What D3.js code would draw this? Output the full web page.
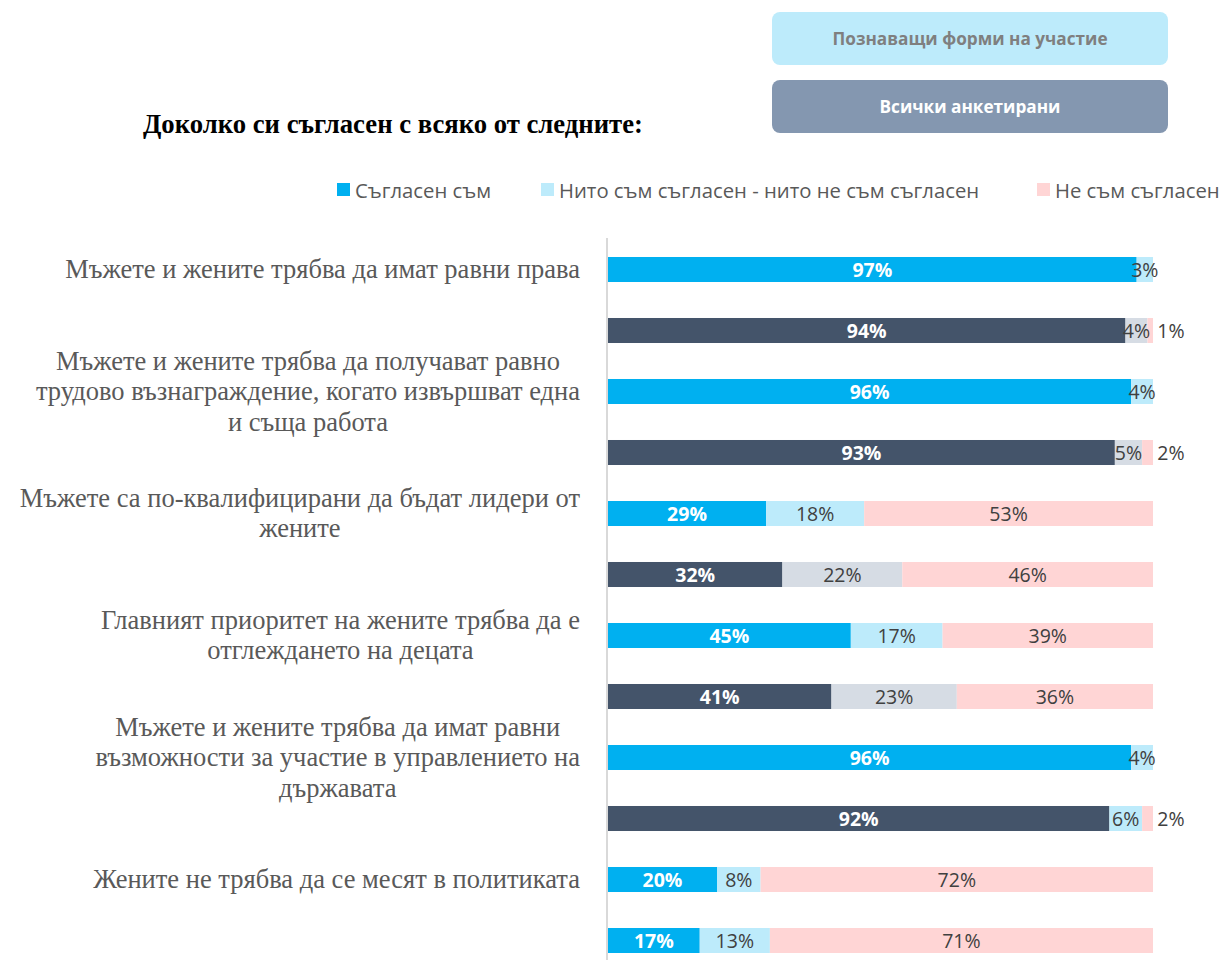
<!DOCTYPE html>
<html><head><meta charset="utf-8">
<script src="https://cdn.jsdelivr.net/npm/d3@7"></script>
<style>body{margin:0;background:#fff}svg{display:block}</style>
</head><body>
<script>
// ---- data ----
const statements = [
  "Мъжете и жените трябва да имат равни права",
  "Мъжете и жените трябва да получават равно|трудово възнаграждение, когато извършват една|и съща работа",
  "Мъжете са по-квалифицирани да бъдат лидери от|жените",
  "Главният приоритет на жените трябва да е|отглеждането на децата",
  "Мъжете и жените трябва да имат равни|възможности за участие в управлението на|държавата",
  "Жените не трябва да се месят в политиката"
];
const groups = ["Познаващи форми на участие", "Всички анкетирани"];
const seriesNames = ["Съгласен съм", "Нито съм съгласен - нито не съм съгласен", "Не съм съгласен"];
const agree    = [97, 94, 96, 93, 29, 32, 45, 41, 96, 92, 20, 17];
const neutral  = [3, 4, 4, 5, 18, 22, 17, 23, 4, 6, 8, 13];
const disagree = [0, 1, 0, 2, 53, 46, 39, 36, 0, 2, 72, 71];
const title = "Доколко си съгласен с всяко от следните:";

// ---- styles ----
const W = 1220, H = 960;
const light = ["#00B0F0", "#BDEBFB", "#FFD5D5"];
const dark  = ["#44546A", "#D6DCE4", "#FFD5D5"];
const darkB = ["#44546A", "#BDEBFB", "#FFD5D5"];
const rowPalette = [light, dark, light, dark, light, dark, light, dark, light, darkB, light, light];

const svg = d3.select("body").append("svg").attr("width", W).attr("height", H);

// buttons
const btns = [
  {t: groups[0], y: 12, fill: "#BDEBFB", color: "#7F7F7F"},
  {t: groups[1], y: 80, fill: "#8497B0", color: "#FFFFFF"}
];
btns.forEach(b => {
  svg.append("rect").attr("x", 772).attr("y", b.y).attr("width", 396).attr("height", 53)
    .attr("rx", 8).attr("fill", b.fill);
  svg.append("text").attr("x", 970).attr("y", b.y + 26.5).attr("text-anchor", "middle")
    .attr("dominant-baseline", "central").attr("font-family", "Open Sans, sans-serif")
    .attr("font-weight", "bold").attr("font-size", 17.2).attr("fill", b.color).text(b.t);
});

// title
svg.append("text").attr("x", 143).attr("y", 133).attr("font-family", "Liberation Serif, serif")
  .attr("font-weight", "bold").attr("font-size", 26.7).attr("fill", "#000").text(title);

// legend
const legX = [337, 541, 1037];
seriesNames.forEach((s, i) => {
  svg.append("rect").attr("x", legX[i]).attr("y", 183).attr("width", 13).attr("height", 13).attr("fill", light[i]);
  svg.append("text").attr("x", legX[i] + 18).attr("y", 190).attr("dominant-baseline", "central")
    .attr("font-family", "Open Sans, sans-serif").attr("font-size", 20.3).attr("fill", "#595959").text(s);
});

// scales
const rows = d3.range(agree.length);
const y = d3.scaleBand().domain(rows).range([239, 239 + 61 * rows.length]).paddingInner(0.59).paddingOuter(0.295);
const x = d3.scaleLinear().domain([0, 1]).range([608, 1153]);

const stackData = rows.map(r => {
  const vals = [agree[r], neutral[r], disagree[r]];
  const tot = d3.sum(vals);
  let acc = 0;
  return vals.map((v, k) => { const s = {r, k, v, x0: acc / tot, x1: (acc + v) / tot}; acc += v; return s; });
});

const g = svg.append("g");
stackData.forEach(segs => {
  segs.filter(s => s.v > 0).forEach(s => {
    g.append("rect").attr("x", x(s.x0)).attr("y", y(s.r)).attr("width", x(s.x1) - x(s.x0))
      .attr("height", y.bandwidth()).attr("fill", rowPalette[s.r][s.k]);
  });
  segs.filter(s => s.v > 0).forEach(s => {
    let cx = (x(s.x0) + x(s.x1)) / 2;
    if (s.k === 2 && s.v < 3) cx = x(1) + 18;
    g.append("text").attr("x", cx).attr("y", y(s.r) + y.bandwidth() / 2)
      .attr("text-anchor", "middle").attr("dominant-baseline", "central")
      .attr("font-family", "Open Sans, sans-serif").attr("font-size", 19.5)
      .attr("font-weight", s.k === 0 ? "bold" : "normal")
      .attr("fill", s.k === 0 ? "#FFFFFF" : "#404040").text(s.v + "%");
  });
});

// axis line
svg.append("line").attr("x1", 607).attr("x2", 607).attr("y1", 238).attr("y2", H)
  .attr("stroke", "#D9D9D9").attr("stroke-width", 2);

// category labels (centered block, right edge at 578)
const lineH = 30.5;
statements.forEach((st, i) => {
  const lines = st.split("|");
  const cyy = y(i * 2) + y.bandwidth() / 2;
  const t = svg.append("text").attr("font-family", "Liberation Serif, serif").attr("font-size", 26.5)
    .attr("fill", "#595959").attr("text-anchor", "middle");
  lines.forEach((l, j) => {
    t.append("tspan").attr("y", cyy + (j - (lines.length - 1) / 2) * lineH).attr("dy", "0.33em").text(l);
  });
  let maxW = 0;
  t.selectAll("tspan").each(function(){ maxW = Math.max(maxW, this.getComputedTextLength()); });
  t.selectAll("tspan").attr("x", 580 - maxW / 2);
});
</script>
</body></html>
